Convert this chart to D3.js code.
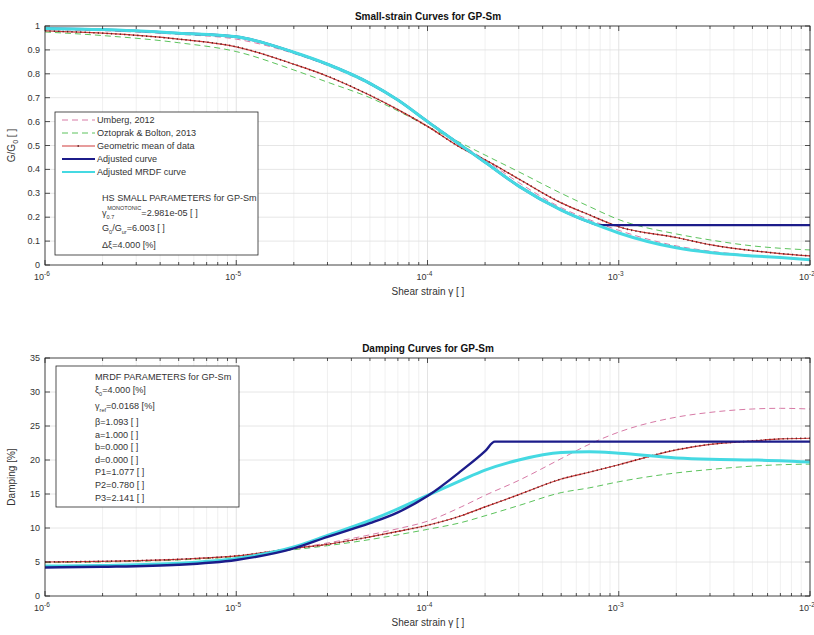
<!DOCTYPE html>
<html>
<head>
<meta charset="utf-8">
<script src="https://cdn.jsdelivr.net/npm/d3@7"></script>
<style>
  body { margin: 0; background: #fff; }
  svg { font-family: "Liberation Sans", Arial, sans-serif; }
  .tick-label { font-size: 9px; fill: #333; }
  .leg { font-size: 9.1px; fill: #333; }
</style>
</head>
<body>
<svg id="chart" width="814" height="635"></svg>
<script>
// shared strain grid
const strain = [1e-6, 2e-6, 5e-6, 1e-5, 2e-5, 3e-5, 5e-5, 7e-5, 1e-4, 1.5e-4, 2e-4, 3e-4, 5e-4, 7e-4, 1e-3, 2e-3, 3e-3, 5e-3, 7e-3, 1e-2];

// G/G0 curves
const gUmberg  = [0.985, 0.98, 0.965, 0.945, 0.885, 0.835, 0.755, 0.69, 0.605, 0.505, 0.44, 0.345, 0.24, 0.19, 0.145, 0.08, 0.058, 0.04, 0.032, 0.025];
const gOztoprak = [0.975, 0.96, 0.93, 0.893, 0.816, 0.765, 0.70, 0.645, 0.58, 0.51, 0.46, 0.39, 0.30, 0.245, 0.19, 0.13, 0.105, 0.08, 0.07, 0.063];
const gMean    = [0.98, 0.97, 0.945, 0.913, 0.84, 0.79, 0.71, 0.65, 0.58, 0.49, 0.44, 0.36, 0.26, 0.21, 0.16, 0.115, 0.085, 0.06, 0.048, 0.038];
const gMrdf    = [0.99, 0.985, 0.97, 0.955, 0.89, 0.84, 0.76, 0.69, 0.60, 0.50, 0.43, 0.33, 0.23, 0.18, 0.134, 0.072, 0.052, 0.038, 0.031, 0.022];
const gAdjStrain = [1e-6, 2e-6, 5e-6, 1e-5, 2e-5, 3e-5, 5e-5, 7e-5, 1e-4, 1.5e-4, 2e-4, 3e-4, 5e-4, 7e-4, 7.9e-4, 1e-2];
const gAdj     = [0.99, 0.985, 0.97, 0.955, 0.89, 0.84, 0.76, 0.69, 0.60, 0.50, 0.43, 0.33, 0.23, 0.18, 0.167, 0.167];

// damping curves [%]
const dUmberg  = [5.0, 5.1, 5.4, 5.9, 7.0, 7.8, 9.0, 9.9, 11.0, 13.1, 14.8, 17.0, 20.2, 22.3, 24.1, 26.3, 27.0, 27.5, 27.6, 27.5];
const dOztoprak = [4.9, 5.0, 5.3, 5.8, 6.8, 7.4, 8.3, 9.0, 9.8, 10.8, 11.8, 13.3, 15.2, 15.9, 16.8, 18.1, 18.6, 19.1, 19.3, 19.4];
const dMean    = [5.0, 5.1, 5.4, 5.9, 7.0, 7.6, 8.7, 9.5, 10.4, 11.8, 13.1, 14.9, 17.2, 18.2, 19.3, 21.5, 22.3, 22.8, 23.1, 23.2];
const dMrdf    = [4.4, 4.5, 4.8, 5.5, 7.2, 8.9, 11.1, 12.8, 14.8, 17.0, 18.5, 20.0, 21.1, 21.2, 21.0, 20.3, 20.1, 20.0, 19.9, 19.7];
const dAdjStrain = [1e-6, 2e-6, 5e-6, 1e-5, 2e-5, 3e-5, 5e-5, 7e-5, 1e-4, 1.5e-4, 2e-4, 2.25e-4, 1e-2];
const dAdj     = [4.2, 4.3, 4.6, 5.3, 7.0, 8.7, 10.7, 12.3, 14.7, 18.4, 21.3, 22.7, 22.7];

const gTicks = [0, 0.1, 0.2, 0.3, 0.4, 0.5, 0.6, 0.7, 0.8, 0.9, 1];
const dTicks = [0, 5, 10, 15, 20, 25, 30, 35];
const xDecades = [-6, -5, -4, -3, -2];

const legendNames = ['Umberg, 2012', 'Oztoprak & Bolton, 2013', 'Geometric mean of data', 'Adjusted curve', 'Adjusted MRDF curve'];

const styles = {
  umberg:   { stroke: '#d77aa6', width: 1, dash: '6,4' },
  oztoprak: { stroke: '#5cc35c', width: 1, dash: '6,4' },
  mean:     { stroke: '#d03a3a', width: 1.2, dash: null, marks: true },
  adj:      { stroke: '#1c1c8a', width: 2.4, dash: null },
  mrdf:     { stroke: '#45d9e2', width: 3, dash: null }
};

const svg = d3.select('#chart');
const x = d3.scaleLog().domain([1e-6, 1e-2]).range([45, 810]);

function drawPanel(cfg) {
  const y = d3.scaleLinear().domain(cfg.yDomain).range([cfg.bottom, cfg.top]);
  const g = svg.append('g');

  // grid
  const minor = x.ticks();
  g.selectAll('.vgrid').data(minor).enter().append('line')
    .attr('x1', d => x(d)).attr('x2', d => x(d))
    .attr('y1', cfg.top).attr('y2', cfg.bottom)
    .attr('stroke', d => Number.isInteger(Math.log10(d)) ? '#dcdcdc' : '#ececec')
    .attr('stroke-width', 0.8);
  g.selectAll('.hgrid').data(cfg.yTicks).enter().append('line')
    .attr('x1', 45).attr('x2', 810)
    .attr('y1', d => y(d)).attr('y2', d => y(d))
    .attr('stroke', '#e0e0e0').attr('stroke-width', 0.8);

  // series
  const line = d3.line().curve(d3.curveMonotoneX);
  cfg.series.forEach(s => {
    const pts = s.xs.map((v, i) => [x(v), y(s.ys[i])]);
    const st = styles[s.key];
    g.append('path').attr('d', line(pts))
      .attr('fill', 'none').attr('stroke', st.stroke)
      .attr('stroke-width', st.width)
      .attr('stroke-dasharray', st.dash);
    if (st.marks) {
      g.append('path').attr('d', line(pts))
        .attr('fill', 'none').attr('stroke', '#5a2020')
        .attr('stroke-width', 1.6).attr('stroke-dasharray', '1.2,3.2');
    }
  });

  // box
  g.append('rect').attr('x', 45).attr('y', cfg.top)
    .attr('width', 765).attr('height', cfg.bottom - cfg.top)
    .attr('fill', 'none').attr('stroke', '#262626').attr('stroke-width', 0.8);

  // x ticks (inside, bottom and top)
  minor.forEach(d => {
    const major = Number.isInteger(Math.log10(d));
    const len = major ? 5 : 3;
    g.append('line').attr('x1', x(d)).attr('x2', x(d))
      .attr('y1', cfg.bottom).attr('y2', cfg.bottom - len).attr('stroke', '#262626').attr('stroke-width', 0.8);
    g.append('line').attr('x1', x(d)).attr('x2', x(d))
      .attr('y1', cfg.top).attr('y2', cfg.top + len).attr('stroke', '#262626').attr('stroke-width', 0.8);
  });
  xDecades.forEach(e => {
    const t = g.append('text').attr('class', 'tick-label')
      .attr('x', x(Math.pow(10, e)) - 3).attr('y', cfg.bottom + 15)
      .attr('text-anchor', 'middle');
    t.append('tspan').text('10');
    t.append('tspan').attr('dy', -4).attr('font-size', 6.5).text(e);
  });

  // y ticks
  cfg.yTicks.forEach(d => {
    g.append('line').attr('x1', 45).attr('x2', 50)
      .attr('y1', y(d)).attr('y2', y(d)).attr('stroke', '#262626').attr('stroke-width', 0.8);
    g.append('line').attr('x1', 810).attr('x2', 805)
      .attr('y1', y(d)).attr('y2', y(d)).attr('stroke', '#262626').attr('stroke-width', 0.8);
    g.append('text').attr('class', 'tick-label')
      .attr('x', 40).attr('y', y(d) + 3).attr('text-anchor', 'end')
      .text(d);
  });

  // title and labels
  g.append('text').attr('x', 428).attr('y', cfg.top - 6)
    .attr('text-anchor', 'middle').attr('font-size', 10).attr('font-weight', 'bold')
    .attr('fill', '#111').text(cfg.title);
  g.append('text').attr('x', 428).attr('y', cfg.bottom + 30)
    .attr('text-anchor', 'middle').attr('font-size', 10).attr('fill', '#333')
    .text('Shear strain \u03b3 [ ]');
  const yl = g.append('text')
    .attr('transform', `translate(15,${(cfg.top + cfg.bottom) / 2}) rotate(-90)`)
    .attr('text-anchor', 'middle').attr('font-size', 10).attr('fill', '#333');
  cfg.ylabel(yl);
  return g;
}

// top panel
const topPanel = drawPanel({
  top: 26, bottom: 265, yDomain: [0, 1], yTicks: gTicks,
  title: 'Small-strain Curves for GP-Sm',
  ylabel: t => { t.append('tspan').text('G/G'); t.append('tspan').attr('dy', 3).attr('font-size', 7).text('0'); t.append('tspan').attr('dy', -3).text(' [ ]'); },
  series: [
    { key: 'umberg', xs: strain, ys: gUmberg },
    { key: 'oztoprak', xs: strain, ys: gOztoprak },
    { key: 'mean', xs: strain, ys: gMean },
    { key: 'adj', xs: gAdjStrain, ys: gAdj },
    { key: 'mrdf', xs: strain, ys: gMrdf }
  ]
});

// bottom panel
const bottomPanel = drawPanel({
  top: 358, bottom: 596, yDomain: [0, 35], yTicks: dTicks,
  title: 'Damping Curves for GP-Sm',
  ylabel: t => t.text('Damping [%]'),
  series: [
    { key: 'umberg', xs: strain, ys: dUmberg },
    { key: 'oztoprak', xs: strain, ys: dOztoprak },
    { key: 'mean', xs: strain, ys: dMean },
    { key: 'mrdf', xs: strain, ys: dMrdf },
    { key: 'adj', xs: dAdjStrain, ys: dAdj }
  ]
});

// top legend
const lg = topPanel.append('g');
lg.append('rect').attr('x', 55).attr('y', 112).attr('width', 203).attr('height', 143)
  .attr('fill', '#fff').attr('stroke', '#262626').attr('stroke-width', 0.8);
const keys = ['umberg', 'oztoprak', 'mean', 'adj', 'mrdf'];
keys.forEach((k, i) => {
  const yy = 120 + i * 13;
  const st = styles[k];
  lg.append('line').attr('x1', 62).attr('x2', 95).attr('y1', yy).attr('y2', yy)
    .attr('stroke', st.stroke).attr('stroke-width', Math.min(st.width, 2.2)).attr('stroke-dasharray', st.dash);
  if (st.marks) {
    lg.append('line').attr('x1', 62).attr('x2', 95).attr('y1', yy).attr('y2', yy)
      .attr('stroke', '#5a2020').attr('stroke-width', 1.6).attr('stroke-dasharray', '0,15.5,1.5,20');
  }
  lg.append('text').attr('class', 'leg').attr('x', 97).attr('y', yy + 3).text(legendNames[i]);
});
lg.append('text').attr('class', 'leg').attr('x', 102).attr('y', 201).text('HS SMALL PARAMETERS for GP-Sm');
const t1 = lg.append('text').attr('class', 'leg').attr('x', 102).attr('y', 216);
t1.append('tspan').text('\u03b3');
t1.append('tspan').attr('font-size', 5.5).attr('dy', 3).text('0.7');
t1.append('tspan').attr('font-size', 5.5).attr('dx', -7).attr('dy', -9).text('MONOTONIC');
t1.append('tspan').attr('dy', 6).text('=2.981e-05 [ ]');
const t2 = lg.append('text').attr('class', 'leg').attr('x', 102).attr('y', 231);
t2.append('tspan').text('G');
t2.append('tspan').attr('font-size', 5.5).attr('dy', 3).text('0');
t2.append('tspan').attr('dy', -3).text('/G');
t2.append('tspan').attr('font-size', 5.5).attr('dy', 3).text('ur');
t2.append('tspan').attr('dy', -3).text('=6.003 [ ]');
lg.append('text').attr('class', 'leg').attr('x', 102).attr('y', 248).text('\u0394\u03be=4.000 [%]');

// bottom parameter box
const pb = bottomPanel.append('g');
pb.append('rect').attr('x', 56).attr('y', 366).attr('width', 183).attr('height', 141)
  .attr('fill', '#fff').attr('stroke', '#262626').attr('stroke-width', 0.8);
pb.append('text').attr('class', 'leg').attr('x', 95).attr('y', 380).text('MRDF PARAMETERS for GP-Sm');
const p1 = pb.append('text').attr('class', 'leg').attr('x', 95).attr('y', 393);
p1.append('tspan').text('\u03be');
p1.append('tspan').attr('font-size', 5.5).attr('dy', 3).text('0');
p1.append('tspan').attr('dy', -3).text('=4.000 [%]');
const p2 = pb.append('text').attr('class', 'leg').attr('x', 95).attr('y', 409);
p2.append('tspan').text('\u03b3');
p2.append('tspan').attr('font-size', 5.5).attr('dy', 3).text('ref');
p2.append('tspan').attr('dy', -3).text('=0.0168 [%]');
const params = ['\u03b2=1.093 [ ]', 'a=1.000 [ ]', 'b=0.000 [ ]', 'd=0.000 [ ]', 'P1=1.077 [ ]', 'P2=0.780 [ ]', 'P3=2.141 [ ]'];
params.forEach((p, i) => {
  pb.append('text').attr('class', 'leg').attr('x', 95).attr('y', 425 + i * 12.6).text(p);
});
</script>
</body>
</html>
